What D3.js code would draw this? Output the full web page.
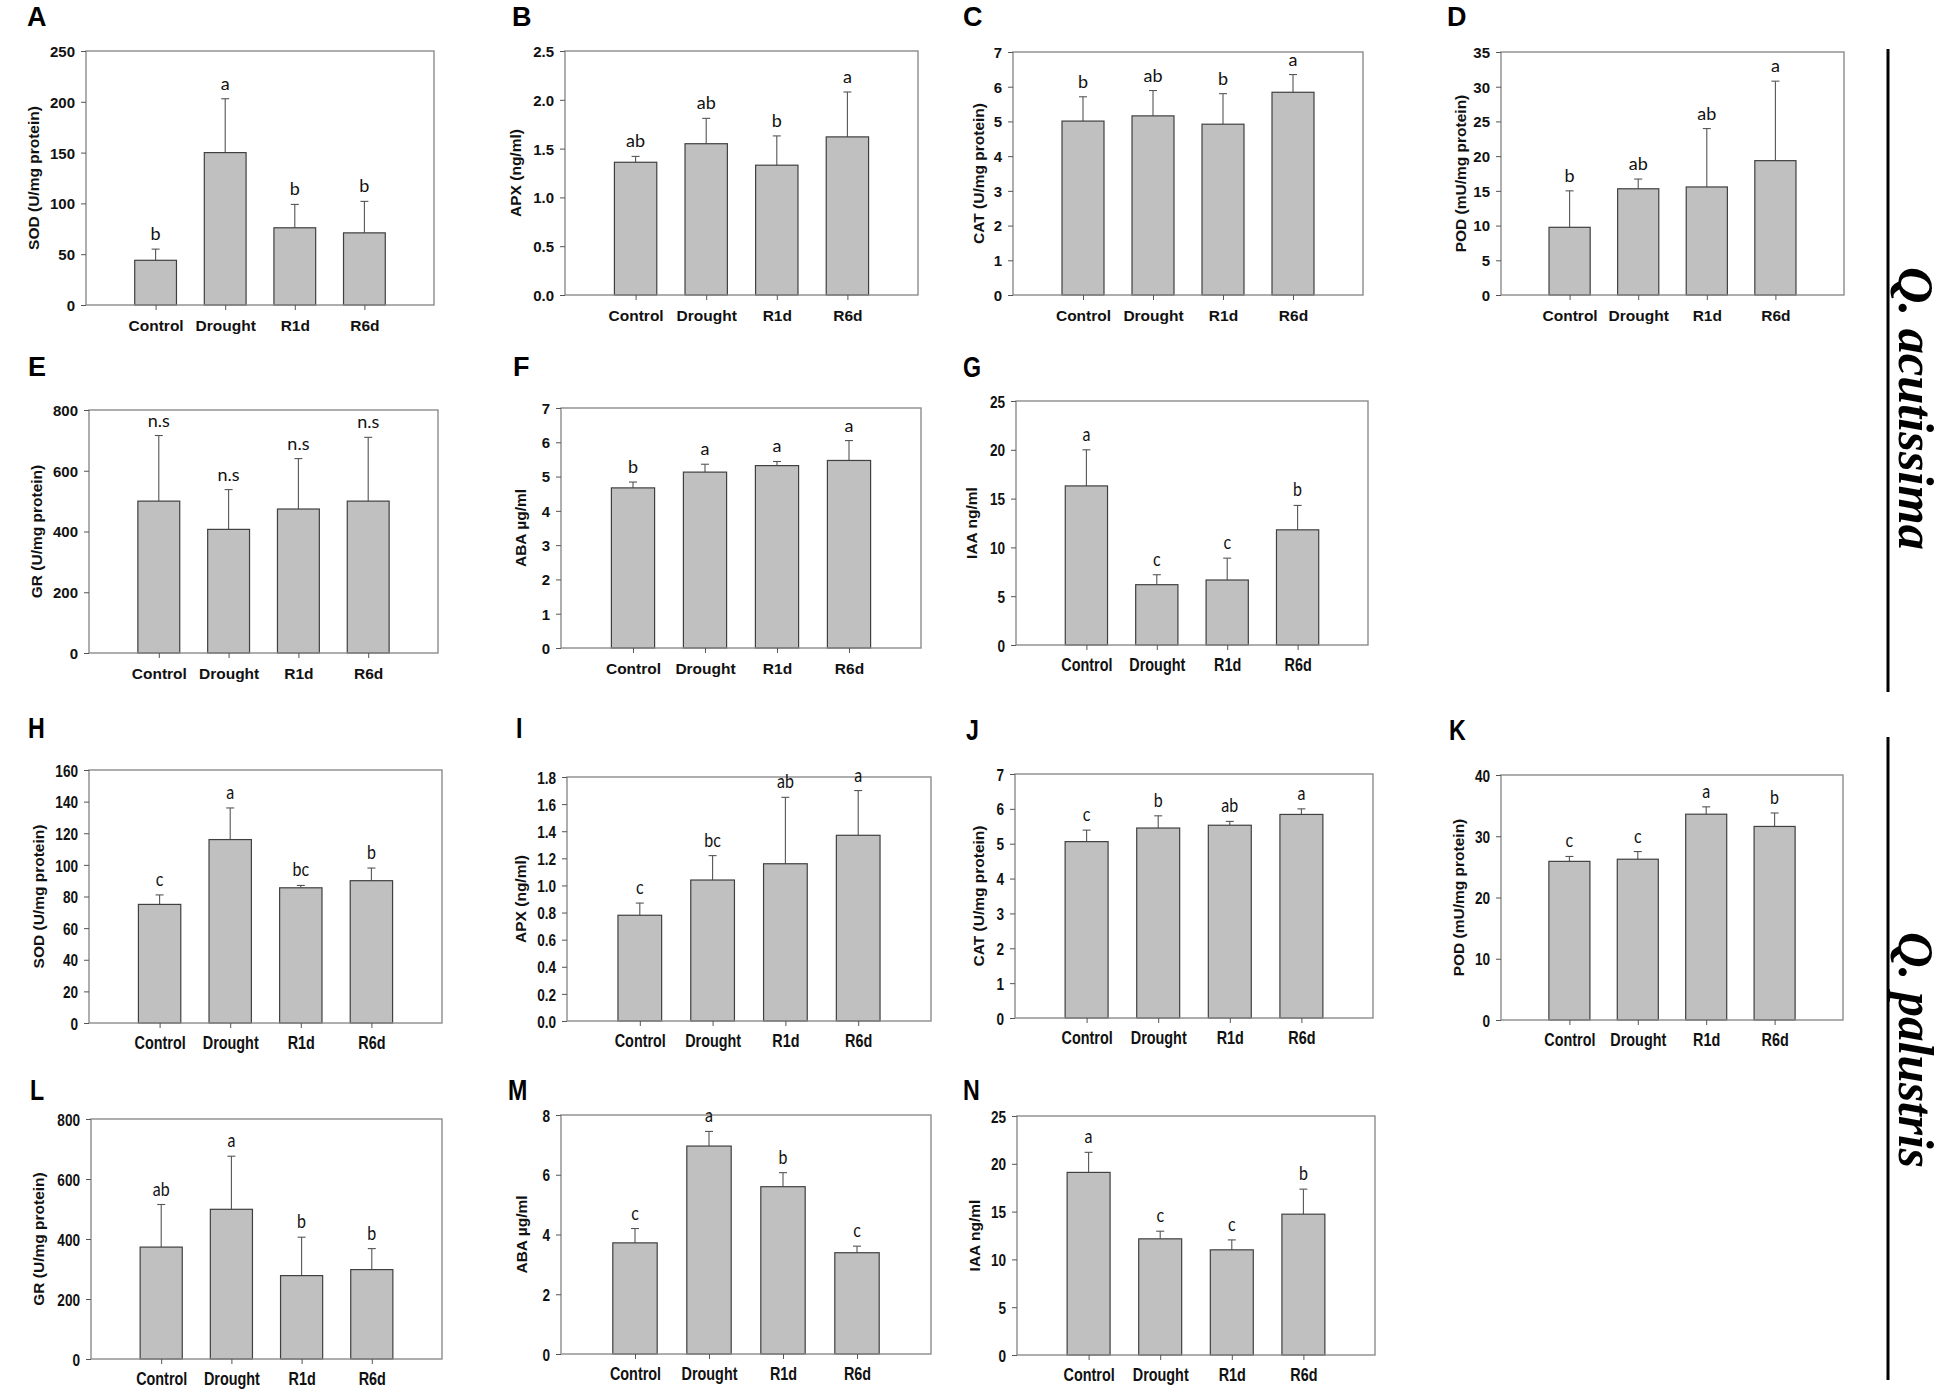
<!DOCTYPE html>
<html>
<head>
<meta charset="utf-8">
<script src="https://cdn.jsdelivr.net/npm/d3@7"></script>
<style>
  body { margin: 0; background: #fff; }
  svg { display: block; }
</style>
</head>
<body>
<div id="chart"></div>
<script>
const categories = ["Control", "Drought", "R1d", "R6d"];

// Q. acutissima
const sodAcut = [44, 150, 76, 71];
const sodAcutErr = [11, 53, 23, 31];
const sodAcutSig = ["b", "a", "b", "b"];
const sodAcutTicks = [0, 50, 100, 150, 200, 250];

const apxAcut = [1.36, 1.55, 1.33, 1.62];
const apxAcutErr = [0.06, 0.26, 0.30, 0.46];
const apxAcutSig = ["ab", "ab", "b", "a"];
const apxAcutTicks = [0, 0.5, 1.0, 1.5, 2.0, 2.5];

const catAcut = [5.01, 5.16, 4.92, 5.84];
const catAcutErr = [0.70, 0.73, 0.88, 0.51];
const catAcutSig = ["b", "ab", "b", "a"];
const catAcutTicks = [0, 1, 2, 3, 4, 5, 6, 7];

const podAcut = [9.75, 15.3, 15.56, 19.35];
const podAcutErr = [5.25, 1.4, 8.41, 11.45];
const podAcutSig = ["b", "ab", "ab", "a"];
const podAcutTicks = [0, 5, 10, 15, 20, 25, 30, 35];

const grAcut = [500, 407, 474, 500];
const grAcutErr = [216, 131, 166, 210];
const grAcutSig = ["n.s", "n.s", "n.s", "n.s"];
const grAcutTicks = [0, 200, 400, 600, 800];

const abaAcut = [4.67, 5.13, 5.32, 5.47];
const abaAcutErr = [0.17, 0.23, 0.12, 0.58];
const abaAcutSig = ["b", "a", "a", "a"];
const abaAcutTicks = [0, 1, 2, 3, 4, 5, 6, 7];

const iaaAcut = [16.3, 6.18, 6.66, 11.8];
const iaaAcutErr = [3.7, 1.02, 2.24, 2.5];
const iaaAcutSig = ["a", "c", "c", "b"];
const iaaAcutTicks = [0, 5, 10, 15, 20, 25];

// Q. palustris
const sodPal = [75, 116, 85.5, 90];
const sodPalErr = [6, 20, 1.5, 8];
const sodPalSig = ["c", "a", "bc", "b"];
const sodPalTicks = [0, 20, 40, 60, 80, 100, 120, 140, 160];

const apxPal = [0.78, 1.04, 1.16, 1.37];
const apxPalErr = [0.09, 0.18, 0.49, 0.33];
const apxPalSig = ["c", "bc", "ab", "a"];
const apxPalTicks = [0, 0.2, 0.4, 0.6, 0.8, 1.0, 1.2, 1.4, 1.6, 1.8];

const catPal = [5.06, 5.45, 5.53, 5.84];
const catPalErr = [0.33, 0.35, 0.11, 0.16];
const catPalSig = ["c", "b", "ab", "a"];
const catPalTicks = [0, 1, 2, 3, 4, 5, 6, 7];

const podPal = [25.9, 26.25, 33.6, 31.6];
const podPalErr = [0.8, 1.25, 1.2, 2.2];
const podPalSig = ["c", "c", "a", "b"];
const podPalTicks = [0, 10, 20, 30, 40];

const grPal = [373, 499, 278, 298];
const grPalErr = [142, 177, 128, 70];
const grPalSig = ["ab", "a", "b", "b"];
const grPalTicks = [0, 200, 400, 600, 800];

const abaPal = [3.72, 6.96, 5.6, 3.39];
const abaPalErr = [0.48, 0.49, 0.47, 0.22];
const abaPalSig = ["c", "a", "b", "c"];
const abaPalTicks = [0, 2, 4, 6, 8];

const iaaPal = [19.1, 12.15, 11.0, 14.73];
const iaaPalErr = [2.1, 0.8, 1.04, 2.62];
const iaaPalSig = ["a", "c", "c", "b"];
const iaaPalTicks = [0, 5, 10, 15, 20, 25];

const species = ["Q. acutissima", "Q. palustris"];

const W = 1949, H = 1391;
const SANS = "'Liberation Sans', Arial, sans-serif";
const SIGF = "Lato, 'Open Sans', sans-serif";
const NARROW = 0.8;

const fmtInt = d3.format("d"), fmtDec = d3.format(".1f");

// layout: plot box [left, top, right, bottom], title offset, panel letter position
const panels = [
  { id: "A", v: sodAcut, e: sodAcutErr, s: sodAcutSig, t: sodAcutTicks, f: fmtInt, title: "SOD (U/mg protein)", box: [86, 51, 434, 305], tdx: -53, lp: [27, 26], narrow: false },
  { id: "B", v: apxAcut, e: apxAcutErr, s: apxAcutSig, t: apxAcutTicks, f: fmtDec, title: "APX (ng/ml)", box: [565, 51, 918, 295], tdx: -50, lp: [512, 26], narrow: false },
  { id: "C", v: catAcut, e: catAcutErr, s: catAcutSig, t: catAcutTicks, f: fmtInt, title: "CAT (U/mg protein)", box: [1013, 52, 1363, 295], tdx: -35, lp: [963, 26], narrow: false },
  { id: "D", v: podAcut, e: podAcutErr, s: podAcutSig, t: podAcutTicks, f: fmtInt, title: "POD (mU/mg protein)", box: [1501, 52, 1844, 295], tdx: -41, lp: [1447, 26], narrow: false },
  { id: "E", v: grAcut, e: grAcutErr, s: grAcutSig, t: grAcutTicks, f: fmtInt, title: "GR (U/mg protein)", box: [89, 410, 438, 653], tdx: -53, lp: [28, 376], narrow: false },
  { id: "F", v: abaAcut, e: abaAcutErr, s: abaAcutSig, t: abaAcutTicks, f: fmtInt, title: "ABA µg/ml", box: [561, 408, 921, 648], tdx: -41, lp: [513, 376], narrow: false },
  { id: "G", v: iaaAcut, e: iaaAcutErr, s: iaaAcutSig, t: iaaAcutTicks, f: fmtInt, title: "IAA ng/ml", box: [1016, 401, 1368, 645], tdx: -45, lp: [963, 377], narrow: true },
  { id: "H", v: sodPal, e: sodPalErr, s: sodPalSig, t: sodPalTicks, f: fmtInt, title: "SOD (U/mg protein)", box: [89, 770, 442, 1023], tdx: -51, lp: [28, 738], narrow: true },
  { id: "I", v: apxPal, e: apxPalErr, s: apxPalSig, t: apxPalTicks, f: fmtDec, title: "APX (ng/ml)", box: [567, 777, 931, 1021], tdx: -47, lp: [516, 738], narrow: true },
  { id: "J", v: catPal, e: catPalErr, s: catPalSig, t: catPalTicks, f: fmtInt, title: "CAT (U/mg protein)", box: [1015, 774, 1373, 1018], tdx: -37, lp: [966, 740], narrow: true },
  { id: "K", v: podPal, e: podPalErr, s: podPalSig, t: podPalTicks, f: fmtInt, title: "POD (mU/mg protein)", box: [1501, 775, 1843, 1020], tdx: -43, lp: [1449, 740], narrow: true },
  { id: "L", v: grPal, e: grPalErr, s: grPalSig, t: grPalTicks, f: fmtInt, title: "GR (U/mg protein)", box: [91, 1119, 442, 1359], tdx: -53, lp: [30, 1100], narrow: true },
  { id: "M", v: abaPal, e: abaPalErr, s: abaPalSig, t: abaPalTicks, f: fmtInt, title: "ABA µg/ml", box: [561, 1115, 931, 1354], tdx: -40, lp: [508, 1100], narrow: true },
  { id: "N", v: iaaPal, e: iaaPalErr, s: iaaPalSig, t: iaaPalTicks, f: fmtInt, title: "IAA ng/ml", box: [1017, 1116, 1375, 1355], tdx: -43, lp: [963, 1100], narrow: true }
];

const svg = d3.select("#chart").append("svg")
  .attr("width", W)
  .attr("height", H)
  .attr("viewBox", `0 0 ${W} ${H}`);

svg.append("rect").attr("width", W).attr("height", H).attr("fill", "#fff");

panels.forEach(drawPanel);

function drawPanel(p) {
  const [x0, y0, x1, y1] = p.box;
  const sx = p.narrow ? NARROW : 1;
  const g = svg.append("g").attr("class", "panel-" + p.id);

  const x = d3.scalePoint().domain(categories).range([x0, x1]).padding(1);
  const y = d3.scaleLinear().domain([0, d3.max(p.t)]).range([y1, y0]);
  const bw = (x1 - x0) / 5 * 0.6;

  // error bars (upper only)
  const eb = g.append("g").attr("stroke", "#555").attr("stroke-width", 1.1);
  categories.forEach((c, i) => {
    const top = y(p.v[i] + p.e[i]);
    eb.append("line").attr("x1", x(c)).attr("x2", x(c)).attr("y1", y(p.v[i])).attr("y2", top);
    eb.append("line").attr("x1", x(c) - 4).attr("x2", x(c) + 4).attr("y1", top).attr("y2", top);
  });

  g.append("g").selectAll("rect")
    .data(categories)
    .join("rect")
    .attr("x", d => x(d) - bw / 2)
    .attr("y", (d, i) => y(p.v[i]))
    .attr("width", bw)
    .attr("height", (d, i) => y(0) - y(p.v[i]))
    .attr("fill", "#c0c0c0")
    .attr("stroke", "#404040")
    .attr("stroke-width", 1.2);

  // frame
  g.append("rect")
    .attr("x", x0).attr("y", y0)
    .attr("width", x1 - x0).attr("height", y1 - y0)
    .attr("fill", "none")
    .attr("stroke", "#8c8c8c")
    .attr("stroke-width", 1.4);

  const tickFont = p.narrow ? 17 : 15;

  const yAxis = g.append("g")
    .attr("transform", `translate(${x0},0)`)
    .call(d3.axisLeft(y).tickValues(p.t).tickSize(5).tickFormat(p.f));
  yAxis.select(".domain").remove();
  yAxis.selectAll("line").attr("stroke", "#555");
  yAxis.selectAll("text")
    .attr("x", -11 / sx)
    .attr("dy", "0.36em")
    .attr("transform", `scale(${sx},1)`)
    .attr("fill", "#111")
    .style("font-family", SANS)
    .style("font-weight", "bold")
    .style("font-size", tickFont + "px");

  const xAxis = g.append("g")
    .attr("transform", `translate(0,${y1})`)
    .call(d3.axisBottom(x).tickSize(5));
  xAxis.select(".domain").remove();
  xAxis.selectAll("line").attr("stroke", "#555");
  xAxis.selectAll("text")
    .attr("y", 26)
    .attr("dy", 0)
    .attr("transform", `scale(${sx},1)`)
    .attr("fill", "#111")
    .style("font-family", SANS)
    .style("font-weight", "bold")
    .style("font-size", (p.narrow ? 18 : 15.5) + "px");

  // significance letters
  categories.forEach((c, i) => {
    const ty = y(p.v[i] + p.e[i]) - 9;
    g.append("text")
      .attr("transform", `translate(${x(c)},${ty}) scale(${sx},1)`)
      .attr("text-anchor", "middle")
      .attr("fill", "#111")
      .style("font-family", SIGF)
      .style("font-size", (p.narrow ? 20 : 18) + "px")
      .text(p.s[i]);
  });

  // y title
  const tx = x0 + p.tdx + 5.5;
  g.append("text")
    .attr("transform", `translate(${tx},${(y0 + y1) / 2}) rotate(-90)`)
    .attr("text-anchor", "middle")
    .attr("fill", "#111")
    .style("font-family", SANS)
    .style("font-weight", "bold")
    .style("font-size", "15.5px")
    .text(p.title);

  // panel letter
  g.append("text")
    .attr("transform", `translate(${p.lp[0]},${p.lp[1]}) scale(${sx},1)`)
    .attr("fill", "#000")
    .style("font-family", SANS)
    .style("font-weight", "bold")
    .style("font-size", (p.narrow ? 29 : 27) + "px")
    .text(p.id);
}

// species labels with separator lines
const speciesLayout = [
  { line: [49, 692], start: 267, len: 283 },
  { line: [737, 1380], start: 932, len: 236 }
];

species.forEach((name, i) => {
  const L = speciesLayout[i];
  svg.append("line")
    .attr("x1", 1888).attr("x2", 1888)
    .attr("y1", L.line[0]).attr("y2", L.line[1])
    .attr("stroke", "#000")
    .attr("stroke-width", 3);
  svg.append("text")
    .attr("transform", `translate(1899,${L.start}) rotate(90)`)
    .attr("textLength", L.len)
    .attr("lengthAdjust", "spacingAndGlyphs")
    .attr("fill", "#000")
    .style("font-family", "'Liberation Serif', 'Times New Roman', serif")
    .style("font-weight", "bold")
    .style("font-style", "italic")
    .style("font-size", "51px")
    .text(name);
});
</script>
</body>
</html>
